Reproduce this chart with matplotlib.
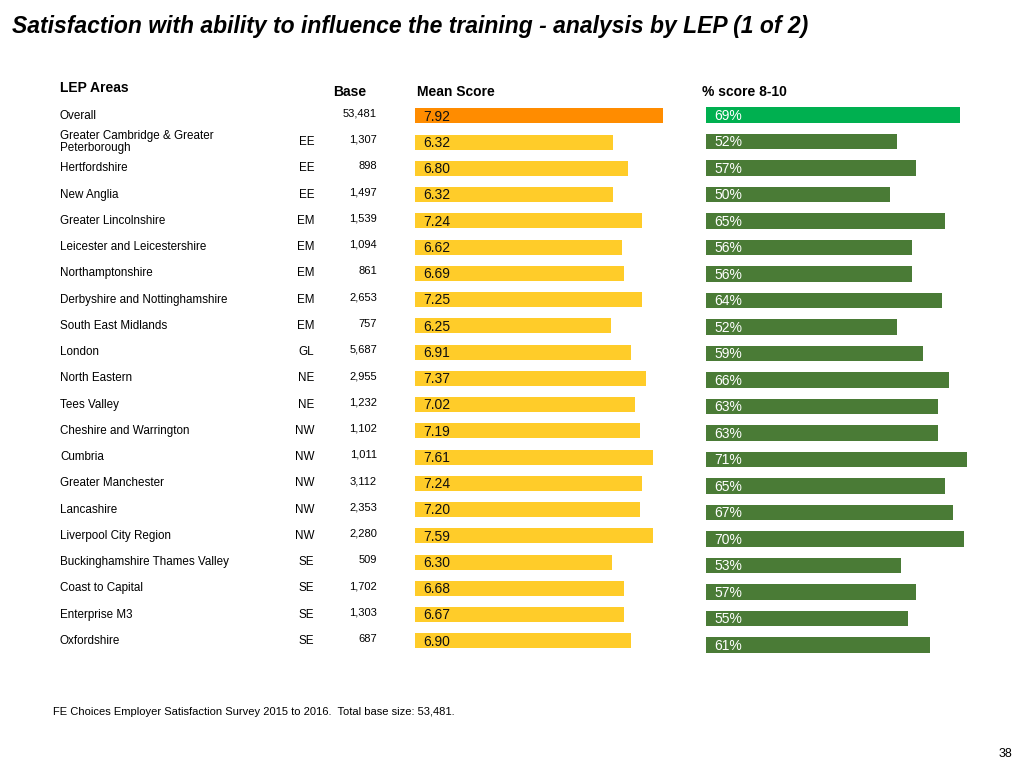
import matplotlib
matplotlib.use("Agg")
import matplotlib.pyplot as plt
from matplotlib.transforms import blended_transform_factory

plt.rcParams["font.family"] = ["Liberation Sans", "DejaVu Sans"]

areas = [
    "Overall", "Greater Cambridge & Greater\nPeterborough", "Hertfordshire", "New Anglia",
    "Greater Lincolnshire", "Leicester and Leicestershire", "Northamptonshire",
    "Derbyshire and Nottinghamshire", "South East Midlands", "London", "North Eastern",
    "Tees Valley", "Cheshire and Warrington", "Cumbria", "Greater Manchester", "Lancashire",
    "Liverpool City Region", "Buckinghamshire Thames Valley", "Coast to Capital",
    "Enterprise M3", "Oxfordshire",
]
regions = ["", "EE", "EE", "EE", "EM", "EM", "EM", "EM", "EM", "GL", "NE", "NE",
           "NW", "NW", "NW", "NW", "NW", "SE", "SE", "SE", "SE"]
bases = [53481, 1307, 898, 1497, 1539, 1094, 861, 2653, 757, 5687, 2955, 1232,
         1102, 1011, 3112, 2353, 2280, 509, 1702, 1303, 687]
mean_scores = [7.92, 6.32, 6.80, 6.32, 7.24, 6.62, 6.69, 7.25, 6.25, 6.91, 7.37, 7.02,
               7.19, 7.61, 7.24, 7.20, 7.59, 6.30, 6.68, 6.67, 6.90]
pct_8_10 = [69, 52, 57, 50, 65, 56, 56, 64, 52, 59, 66, 63, 63, 71, 65, 67, 70, 53, 57, 55, 61]

W, H = 1024, 768
fig = plt.figure(figsize=(W / 100, H / 100), dpi=100)
fig.patch.set_facecolor("white")


def px_axes(x0, y0, x1, y1):
    # axes placed by pixel box (top-left origin)
    return fig.add_axes([x0 / W, 1 - y1 / H, (x1 - x0) / W, (y1 - y0) / H])


n = len(areas)
rows = list(range(n))

# mean score column
ax_m = px_axes(415, 102.7, 700, 653.9)
ax_m.set_xlim(0, 285 / 31.3)
ax_m.set_ylim(n - 0.5, -0.5)
m_colors = ["#FF8C00"] + ["#FFCC29"] * (n - 1)
ax_m.barh(rows, mean_scores, height=0.57, color=m_colors)
for i, v in enumerate(mean_scores):
    ax_m.text(0.27, i + 0.03, f"{v:.2f}", ha="left", va="center", fontsize=10, color="#111111")

# % score 8-10 column
ax_p = px_axes(706, 101.75, 1000, 658.25)
ax_p.set_xlim(0, 294 / 3.68)
ax_p.set_ylim(n - 0.5, -0.5)
p_colors = ["#00B050"] + ["#4A7B36"] * (n - 1)
ax_p.barh(rows, pct_8_10, height=0.57, color=p_colors)
for i, v in enumerate(pct_8_10):
    ax_p.text(2.2, i + 0.03, f"{v}%", ha="left", va="center", fontsize=10, color="white")

for ax in (ax_m, ax_p):
    ax.axis("off")

# left-hand table text
tr = blended_transform_factory(fig.transFigure, ax_m.transData)
for i in rows:
    fig.text(60 / W, i, areas[i], transform=tr, ha="left", va="center",
             fontsize=8.4, linespacing=0.95)
    if regions[i]:
        fig.text(314 / W, i, regions[i], transform=tr, ha="right", va="center", fontsize=8.4)
    fig.text(377 / W, i - 0.08, f"{bases[i]:,}", transform=tr, ha="right", va="center",
             fontsize=8)

# headers
fig.text(60 / W, 1 - 88 / H, "LEP Areas", ha="left", va="center", fontsize=10, fontweight="bold")
fig.text(333 / W, 1 - 92 / H, "Base", ha="left", va="center", fontsize=10, fontweight="bold")
fig.text(417 / W, 1 - 92 / H, "Mean Score", ha="left", va="center", fontsize=10, fontweight="bold")
fig.text(702 / W, 1 - 92 / H, "% score 8-10", ha="left", va="center", fontsize=10, fontweight="bold")

fig.text(12 / W, 1 - 27 / H, "Satisfaction with ability to influence the training - analysis by LEP (1 of 2)",
         ha="left", va="center", fontsize=16.5, fontweight="bold", fontstyle="italic")

fig.text(53 / W, 1 - 712 / H,
         "FE Choices Employer Satisfaction Survey 2015 to 2016.  Total base size: 53,481.",
         ha="left", va="center", fontsize=8)
fig.text(1012 / W, 1 - 754 / H, "38", ha="right", va="center", fontsize=9)

fig.savefig("out.png", dpi=100, facecolor="white")
